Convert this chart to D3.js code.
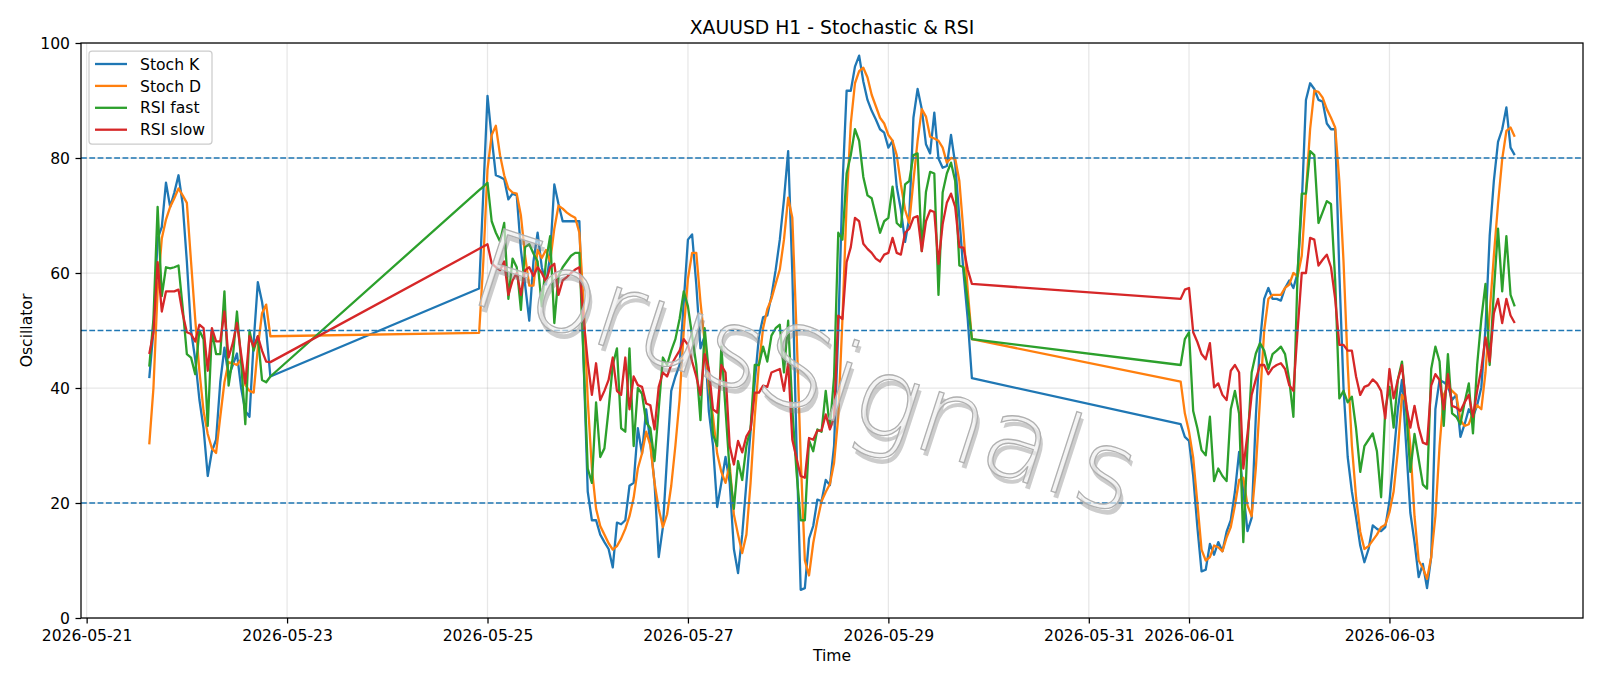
<!DOCTYPE html>
<html>
<head>
<meta charset="utf-8">
<script src="https://cdn.jsdelivr.net/npm/d3@7"></script>
<style>
  body { margin: 0; background: #fff; }
  text { font-family: "DejaVu Sans", sans-serif; }
</style>
</head>
<body>
<div id="chart"></div>
<script>
// hourly bars, three trading stretches (weekend gaps are bridged by the line)
const segStarts = [Date.UTC(2026, 4, 21, 15), Date.UTC(2026, 4, 24, 22), Date.UTC(2026, 4, 31, 22)];

const stochK = [
  [41.7, 50, 66, 68, 75.7, 71.5, 74, 77, 72, 62, 50, 45, 38, 33, 24.7, 29, 31, 41, 47, 42, 44, 46, 40, 36, 35, 48, 58.4, 55, 50, 42],
  [57.3, 74, 90.8, 83.5, 77, 76.7, 76.3, 72.8, 73.8, 73.5, 64, 58, 51.7, 62, 67, 61, 58, 63, 75.4, 72, 69, 69, 69, 69, 69, 45, 22, 17, 17, 14.5, 13.2, 12, 8.8, 16.6, 16.3, 17, 23, 23.5, 33, 28.6, 36.3, 30.5, 23.5, 10.6, 15.8, 28, 39.5, 42, 44,
   55,
   65.8, 66.7, 58, 46.9, 49, 36, 30, 19.3, 23.5, 28, 23.5, 12, 7.8, 14.5, 23.5, 32.5, 41, 49, 52.3, 52.6, 56, 60.5, 65.8, 72.8, 81.2, 60, 30, 4.9, 5.2, 13.8, 16, 20.6, 20.3, 24, 23.1, 30, 50, 75, 91.7, 91.7, 95.9, 97.8, 93.3, 90.1, 88.2, 86.7, 85,
   84.4,
   81.8, 83, 75, 71, 65.4, 69.6, 87, 92, 88.5, 82.4, 80.8, 87.9, 79.9, 78.3, 78.6, 84, 79, 69.6, 60, 52, 41.7],
  [33.7, 31.5, 30.8, 24.7, 15.8, 8.1, 8.4, 12.9, 11, 13.2, 11.6, 15, 17, 22, 28.9, 22, 15.1, 17.4, 35, 48, 55.5, 57.4, 55.5, 55.5, 55.2, 57.4, 58.7, 57.4, 60, 72, 90.1, 93, 92, 90.1, 89.8, 86, 85, 85, 60, 40, 28,
   22, 17.5, 12.6, 9.7, 12, 16.1, 15.5, 15.1, 15.8, 20.3, 28, 36.3, 41.4, 30, 18.3, 13.2, 7.1, 9.4, 5.2, 10.6, 36.3, 41.4, 41, 40.4, 37.9, 38.8, 31.5, 33.7, 36.3, 35, 37, 40.1, 50.4, 66.4, 76, 82.8, 85, 88.8, 81.8, 80.5]
];

const stochD = [
  [30.2, 40, 57, 66, 69.3, 71.5, 73, 74.7, 73.5, 72.2, 62, 52, 43, 36, 32, 29.5, 28.7, 35, 41, 44.5, 44.3, 44, 45, 40.5, 39.5, 39.2, 47, 53, 54.5, 49],
  [49.6, 62, 78, 84, 85.6, 80.5, 77, 74.7, 74, 73.8, 70, 63, 57.8, 57.8, 64, 62.6, 64, 62, 67.7, 71.7, 71.2, 70.5, 70, 69.6, 67, 55, 38, 26, 19, 16, 14.5, 13, 11.9, 12.5, 13.8, 15.5, 17.7, 20.9, 26, 28.6, 32.4, 30, 23.5, 19, 15.8, 18, 23, 30, 38,
   50,
   59, 63.5, 63.5, 55, 48, 40, 35, 28.6, 25.4, 23.5, 26.7, 18, 14.5, 11.3, 14.5, 23.5, 35, 44, 50.4, 53.7, 55.5, 58.1, 60.6, 65.8, 73.1, 69.6, 50, 28, 10, 7.4, 13, 17, 20.3, 21.9, 23.3, 27, 35, 52, 72, 86, 93, 95.1, 95.7, 94, 91, 89, 87,
   86,
   84, 83, 80.5, 75.4, 71, 68.7, 76, 83, 88.5, 87.2, 83.7, 83.4, 83, 81.8, 79.2, 80, 79.9, 76, 67, 57, 48.5],
  [41.1, 35.6, 32.4, 27.9, 20, 11.9, 10, 10.6, 12.6, 12.3, 11.6, 14, 15.8, 19.6, 24, 24.4, 19.6, 17.7, 26, 38, 50, 55.5, 56.2, 56.2, 56.2, 57.4, 58, 60, 59.4, 63, 74, 85, 91.7, 91.5, 90.5, 88.5, 87, 85.3, 76, 62, 44,
   30, 21, 15, 12, 12.5, 13.5, 14.5, 15.8, 16.2, 18.4, 22, 29, 38.8, 37.5, 29.9, 17.7, 10, 8.7, 6.8, 10.6, 17.7, 29.9, 38.8, 40.4, 39.5, 38.8, 34.4, 33.4, 33.7, 35.7, 37, 36.3, 42.7, 53, 63, 72, 79.8, 84.7, 85.3, 83.7]
];

const rsiFast = [
  [43.7, 52, 71.5, 56, 61, 60.8, 61, 61.3, 54, 45.9, 45.3, 42.4, 50, 48.5, 33.4, 50, 45.9, 45.9, 56.8, 40.4, 45.3, 53.3, 44.6, 33.7, 50, 46.5, 49, 41.4, 41, 42],
  [74.4, 75, 75.7, 69, 67, 65.5, 68.7, 55.5, 62.5, 61, 53.6, 64.5, 65, 63.4, 62, 54.2, 62, 66.4, 51.3, 59.5, 61, 62, 63, 63.5, 63.5, 45, 26, 23.5, 37.5, 28, 29.5, 36.3, 44, 46.9, 33, 32.4, 46.9, 29.9, 40, 39, 34, 33, 27.3, 36.3, 45.3, 44, 46.5, 48.5, 52,
   56.8,
   54.2, 49.1, 44, 34.4, 50.4, 42.7, 31.9, 29.9, 47.2, 36.3, 25.4, 19, 27.3, 24, 29.9, 33, 44, 44, 47.2, 44.6, 49.1, 50.4, 51, 42.7, 51.7, 36.3, 25.4, 17, 17, 30.9, 29, 32.8, 32.4, 39.5, 33.1, 42, 67, 65.8, 77.3, 80.5, 85, 83, 76.7, 73.5, 73, 70, 67,
   69,
   69.6, 75, 68.7, 68, 75.4, 76, 80.5, 80.8, 63.8, 74.1, 77.6, 77.3, 56.2, 74, 77.3, 79.2, 76, 61.3, 61, 55, 48.5],
  [44, 48.5, 49.7, 36, 33, 29.2, 28.3, 35, 23.8, 26, 24.7, 23.8, 36.3, 39.5, 35.5, 13.2, 30, 42.7, 46, 47.8, 46.5, 43.3, 45.9, 46.5, 47.2, 45.9, 41.4, 35, 60, 73.8, 73.8, 81.2, 80.5, 68.7, 70.6, 72.5, 72, 58.7, 38.2, 39.5, 37.5,
   38.5, 33, 25.4, 29.9, 31, 32.1, 29, 21, 36.3, 40.2, 33.1, 41.4, 44.6, 36.3, 25.4, 32, 27.6, 23.2, 22.5, 43.3, 47.2, 44.6, 33.4, 45.9, 35.6, 35, 33.7, 37.5, 40.8, 32.1, 44, 52, 58.1, 44, 56.8, 67.7, 56.8, 66.4, 56.2, 54.2]
];

const rsiSlow = [
  [45.9, 49.7, 61.9, 53.3, 56.8, 56.8, 56.8, 57.1, 52.9, 49.7, 49.4, 48.1, 51, 50.4, 43, 50.4, 48.1, 48.1, 53.3, 45.3, 47.8, 51.3, 45.9, 40.8, 49, 47.2, 49, 46.5, 44.6, 44.5],
  [64.2, 64.6, 65, 61.7, 61, 60.5, 62, 56.2, 58.7, 60, 56.2, 60.5, 61, 59.5, 61, 60, 58.5, 61, 61.6, 56.2, 58.7, 59.3, 60, 60.6, 61, 52, 44.6, 38.8, 44.3, 37.9, 39.5, 41.4, 45.3, 39.5, 38.8, 45.3, 36.3, 42, 40.5, 40.2, 37.3, 37, 32.8, 40.2, 42.7, 42, 44, 45.3, 46.5,
   48.5,
   47.5, 44.6, 42, 38.8, 45.9, 43.3, 36.3, 35.7, 44, 42.7, 29.9, 26.7, 30.8, 28.8, 31.6, 32.8, 39.2, 39.2, 40.4, 40.2, 42.7, 43, 43.3, 39.5, 44.3, 31, 27.8, 24.7, 24.4, 31.3, 31, 32.6, 32.6, 35.4, 32.8, 34.8, 52.6, 52, 61.9, 64.5, 69.6, 69, 65.1, 64.2, 63.5, 62.5, 62,
   63.2,
   63.5, 66.1, 63.5, 63.2, 67, 67.7, 69.6, 69.9, 63.8, 69, 70.9, 70.6, 61.6, 68.5, 72.2, 73.8, 71.5, 64.5, 64.4, 60.6, 58.1],
  [55.5, 57.1, 57.4, 49.7, 48, 45.9, 45, 47.8, 40.1, 40.8, 38.8, 37.9, 43, 44, 42.7, 26, 32, 38.8, 41.5, 44, 44, 42.4, 43.5, 44, 44.3, 43.3, 40.5, 39.5, 50, 60, 60, 66.1, 65.8, 61.3, 62.3, 63.2, 61, 55.5, 47.5, 47.5, 46.5,
   46.5, 42, 38.8, 40.2, 40.5, 41.5, 40.8, 39.5, 34.7, 43.3, 38.2, 41.4, 44, 37, 33.1, 36.9, 33.1, 30.5, 30.2, 40.4, 42.4, 41.4, 36.3, 42.4, 36.9, 36.6, 36, 37.5, 38.8, 35, 39.5, 43.3, 48.8, 44.6, 53, 55.5, 51.3, 55.5, 52.6, 51.3]
];

const seriesNames = ["Stoch K", "Stoch D", "RSI fast", "RSI slow"];
const seriesColors = ["#1f77b4", "#ff7f0e", "#2ca02c", "#d62728"];
const levelLines = [80, 50, 20];
const yTicks = [0, 20, 40, 60, 80, 100];
const xTickDates = ["2026-05-21", "2026-05-23", "2026-05-25", "2026-05-27", "2026-05-29", "2026-05-31", "2026-06-01", "2026-06-03"];

const W = 1600, H = 686;
const margin = {top: 43, right: 17, bottom: 68, left: 81};
const width = W - margin.left - margin.right,
      height = H - margin.top - margin.bottom;

// one point per hour inside each stretch
function toPoints(segs) {
  const pts = [];
  segs.forEach((vals, s) => {
    vals.forEach((v, i) => pts.push({t: new Date(segStarts[s] + i * 3600e3), v: v}));
  });
  return pts;
}
const allSeries = [stochK, stochD, rsiFast, rsiSlow].map(toPoints);

const svg = d3.select("#chart")
  .append("svg")
    .attr("width", W)
    .attr("height", H);

const g = svg.append("g")
    .attr("transform", `translate(${margin.left},${margin.top})`);

// matplotlib-style 5% margins on the time axis
const ext = d3.extent(allSeries[0], d => d.t);
const pad = (ext[1] - ext[0]) * 0.05;
const xScale = d3.scaleUtc()
    .domain([new Date(+ext[0] - pad), new Date(+ext[1] + pad)])
    .range([0, width]);
const yScale = d3.scaleLinear()
    .domain([0, 100])
    .range([height, 0]);

const tickDates = xTickDates.map(s => new Date(s + "T00:00:00Z"));

// grid
g.append("g").selectAll("line")
  .data(tickDates).enter().append("line")
    .attr("x1", d => xScale(d)).attr("x2", d => xScale(d))
    .attr("y1", 0).attr("y2", height)
    .style("stroke", "#b0b0b0").style("stroke-opacity", 0.3).style("stroke-width", 1.25);
g.append("g").selectAll("line")
  .data(yTicks).enter().append("line")
    .attr("x1", 0).attr("x2", width)
    .attr("y1", d => yScale(d)).attr("y2", d => yScale(d))
    .style("stroke", "#b0b0b0").style("stroke-opacity", 0.3).style("stroke-width", 1.25);

// series
const line = d3.line()
    .x(d => xScale(d.t))
    .y(d => yScale(d.v));

allSeries.forEach((pts, k) => {
  g.append("path")
    .datum(pts)
    .attr("d", line)
    .style("fill", "none")
    .style("stroke", seriesColors[k])
    .style("stroke-width", 2.3)
    .style("stroke-linejoin", "round");
});

// reference levels
g.append("g").selectAll("line")
  .data(levelLines).enter().append("line")
    .attr("x1", 0).attr("x2", width)
    .attr("y1", d => yScale(d)).attr("y2", d => yScale(d))
    .style("stroke", "#1f77b4")
    .style("stroke-width", 1.5)
    .style("stroke-dasharray", "5.8,2.5");

// watermark, light glyphs with a soft offset shadow
const wmText = "ForusSignals";
const wm = svg.append("g")
    .attr("transform", "translate(804,379) rotate(18)");
wm.append("text")
    .attr("x", 4).attr("y", 5)
    .attr("text-anchor", "middle")
    .attr("dominant-baseline", "middle")
    .style("font-size", "110px")
    .style("font-weight", 200)
    .style("fill", "#808080")
    .style("fill-opacity", 0.4)
    .text(wmText);
wm.append("text")
    .attr("text-anchor", "middle")
    .attr("dominant-baseline", "middle")
    .style("font-size", "110px")
    .style("font-weight", 200)
    .style("fill", "#eeeeee")
    .style("fill-opacity", 0.65)
    .style("stroke", "#b0b0b0")
    .style("stroke-width", 1.3)
    .text(wmText);

// axes
const xAxis = g.append("g")
    .attr("transform", `translate(0,${height})`)
    .call(d3.axisBottom(xScale)
      .tickValues(tickDates)
      .tickFormat(d3.utcFormat("%Y-%m-%d"))
      .tickSizeInner(5.5).tickSizeOuter(0).tickPadding(5.5));
xAxis.selectAll("text").style("font-size", "15.6px").attr("dy", "0.76em").style("fill", "#000");

const yAxis = g.append("g")
    .call(d3.axisLeft(yScale)
      .tickValues(yTicks)
      .tickSizeInner(5.5).tickSizeOuter(0).tickPadding(5.5));
yAxis.selectAll("text").style("font-size", "15.6px").style("fill", "#000");
[xAxis, yAxis].forEach(a => {
  a.select(".domain").remove();
  a.selectAll("line").style("stroke", "#000").style("stroke-width", 1.25);
});

// frame
g.append("rect")
    .attr("width", width).attr("height", height)
    .style("fill", "none").style("stroke", "#000").style("stroke-width", 1.25);

// labels
svg.append("text")
    .attr("x", margin.left + width / 2).attr("y", 33.5)
    .attr("text-anchor", "middle")
    .style("font-size", "18.8px")
    .text("XAUUSD H1 - Stochastic & RSI");
svg.append("text")
    .attr("x", margin.left + width / 2).attr("y", 661)
    .attr("text-anchor", "middle")
    .style("font-size", "15.6px")
    .text("Time");
svg.append("text")
    .attr("transform", "translate(31.5,330.5) rotate(-90)")
    .attr("text-anchor", "middle")
    .style("font-size", "15.6px")
    .text("Oscillator");

// legend
const legend = svg.append("g").attr("transform", "translate(89,51)");
legend.append("rect")
    .attr("width", 123).attr("height", 93)
    .attr("rx", 3).attr("ry", 3)
    .style("fill", "#fff").style("fill-opacity", 0.8)
    .style("stroke", "#cccccc").style("stroke-width", 1.25);
seriesNames.forEach((name, k) => {
  const yy = 13 + k * 21.9;
  legend.append("line")
    .attr("x1", 6).attr("x2", 38).attr("y1", yy).attr("y2", yy)
    .style("stroke", seriesColors[k]).style("stroke-width", 2.3);
  legend.append("text")
    .attr("x", 51).attr("y", yy + 5.6)
    .style("font-size", "15.6px")
    .text(name);
});
</script>
</body>
</html>
